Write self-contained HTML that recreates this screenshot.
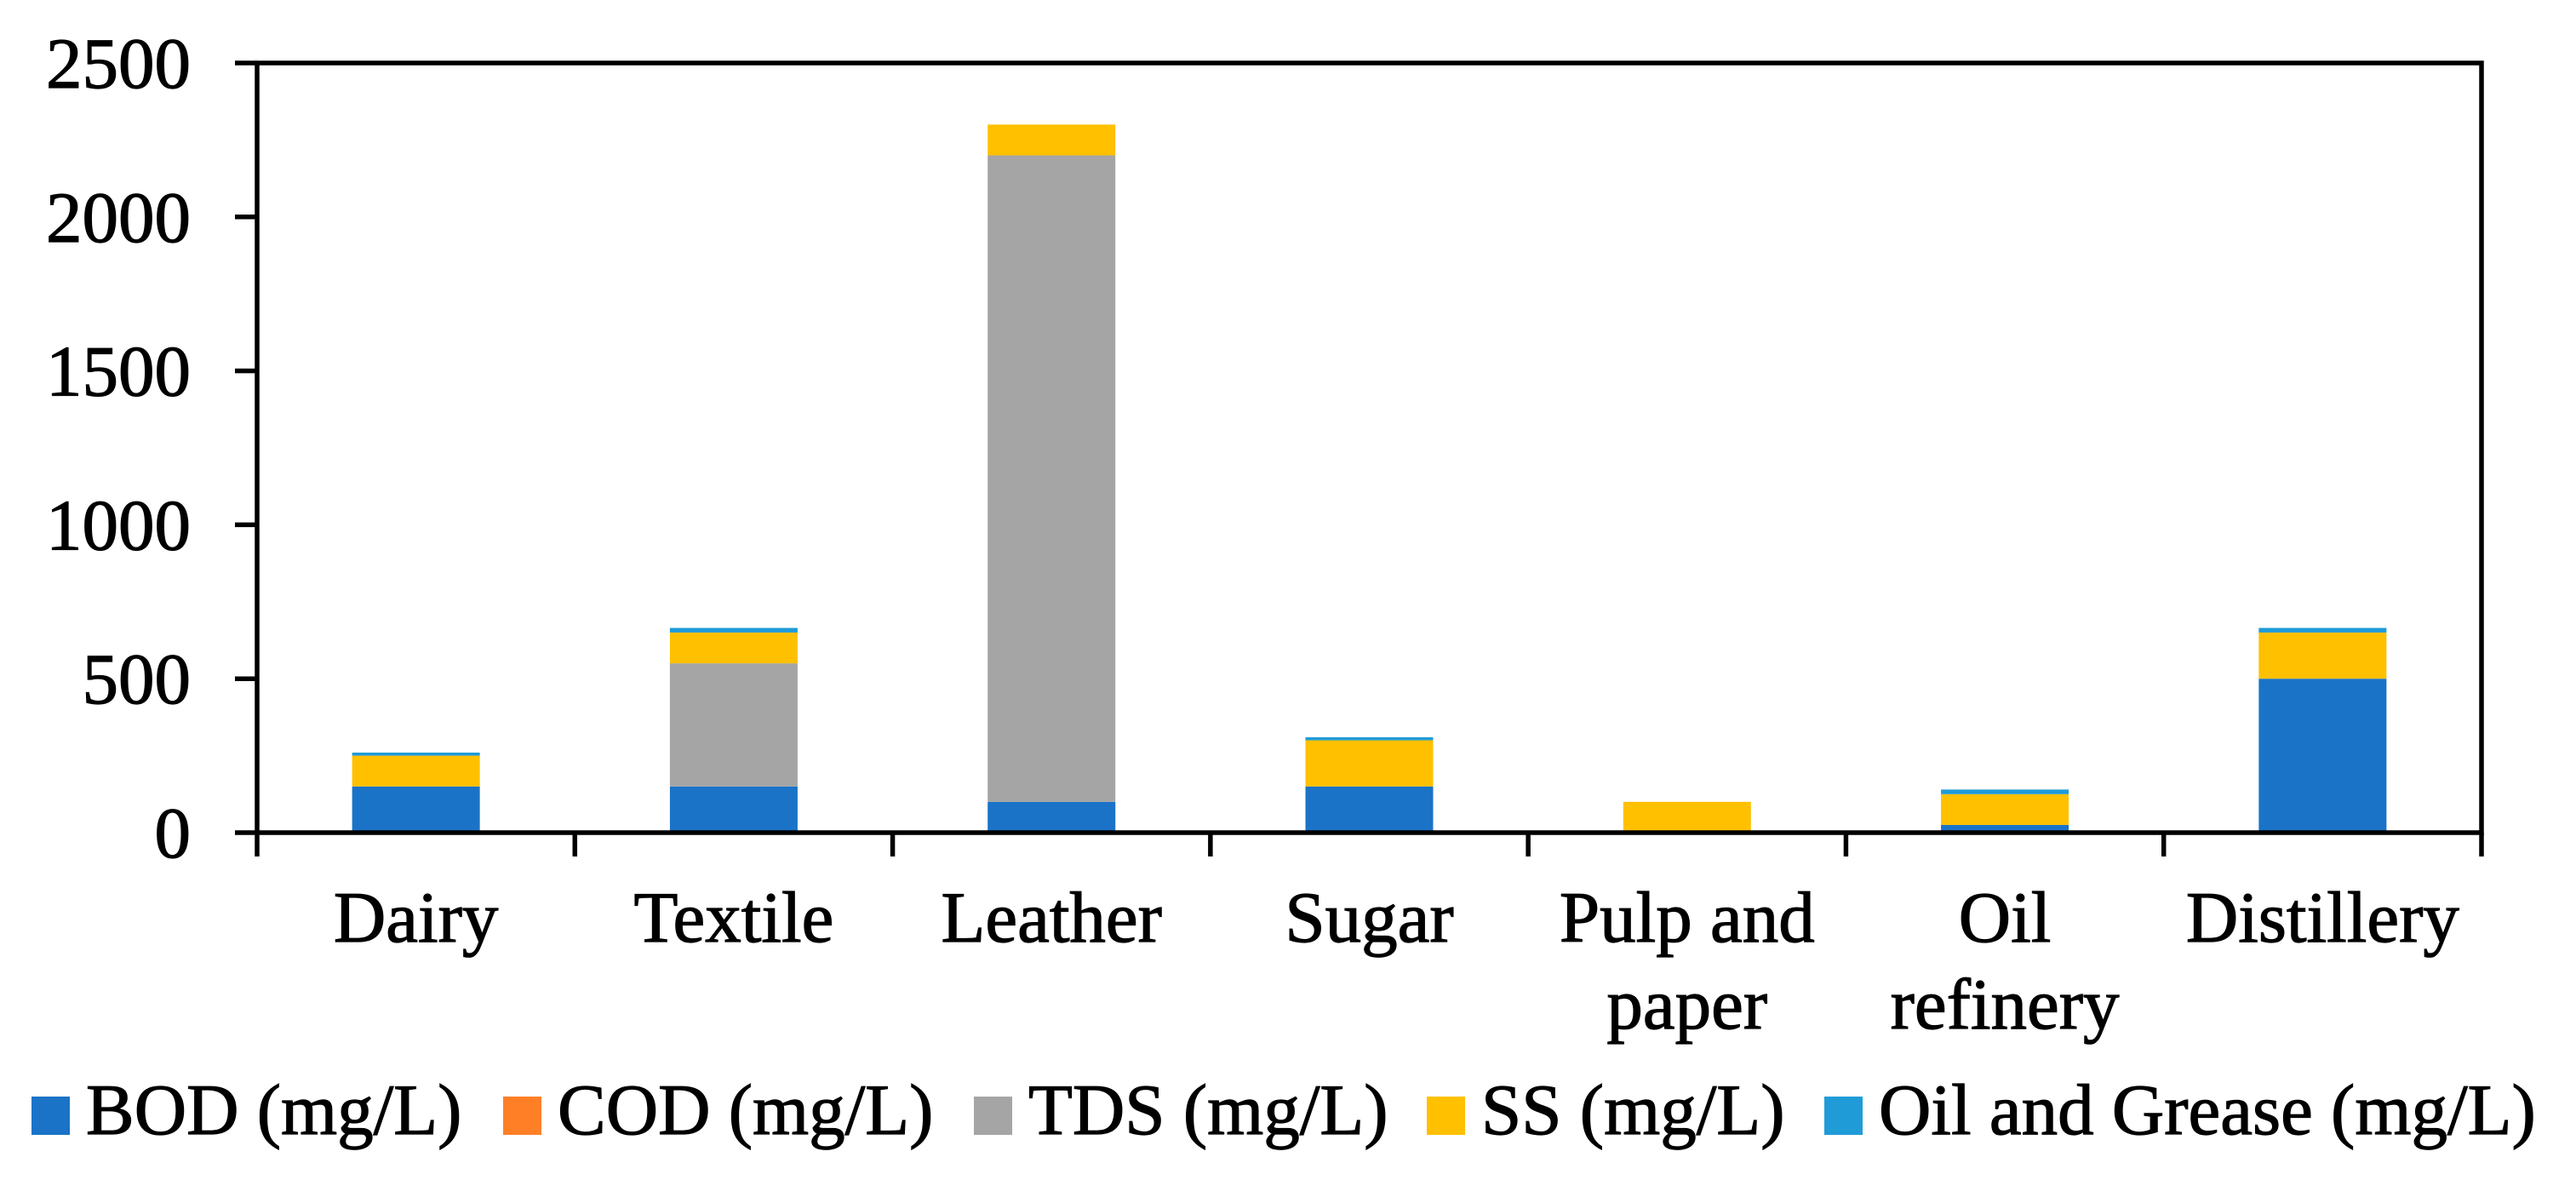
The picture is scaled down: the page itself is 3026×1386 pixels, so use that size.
<!DOCTYPE html>
<html><head><meta charset="utf-8"><style>
html,body{margin:0;padding:0;background:#fff;}
svg{display:block;font-family:"Liberation Serif",serif;}
svg text{stroke:#000;stroke-width:1.2px;}
</style></head><body>
<svg id="chart" width="3026" height="1386" viewBox="0 0 3026 1386" xmlns="http://www.w3.org/2000/svg"></svg>
<script>
const categories = [["Dairy"],["Textile"],["Leather"],["Sugar"],["Pulp and","paper"],["Oil","refinery"],["Distillery"]];
const seriesNames = ["BOD (mg/L)","COD (mg/L)","TDS (mg/L)","SS (mg/L)","Oil and Grease (mg/L)"];
const bod = [150,150,100,150,0,25,500];
const cod = [0,0,0,0,0,0,0];
const tds = [0,400,2100,0,0,0,0];
const ss = [100,100,100,150,100,100,150];
const oil = [10,15,0,10,0,15,15];
const yTicks = [0,500,1000,1500,2000,2500];
const colors = ["#1a73c7","#ff7f27","#a5a5a5","#ffc000","#1f9bd7"];
const keys = ["bod","cod","tds","ss","oil-grease"];

const series = [bod,cod,tds,ss,oil];
const L=302,R=2915,T=74,B=978,yMax=2500;
const NS="http://www.w3.org/2000/svg";
const svg=document.getElementById('chart');
const cw=(R-L)/categories.length;
const y=v=>B-(v/yMax)*(B-T);
const xc=i=>L+cw*(i+0.5);
function el(tag,attrs,parent){const e=document.createElementNS(NS,tag);for(const k in attrs)e.setAttribute(k,attrs[k]);(parent||svg).appendChild(e);return e;}

const bw=150;
categories.forEach((c,i)=>{
  let base=0;
  series.forEach((s,k)=>{
    const v=s[i]; if(v<=0) return;
    const r=el('rect',{x:xc(i)-bw/2,y:y(base+v),width:bw,height:y(base)-y(base+v),fill:colors[k]});
    
    
    base+=v;
  });
});
const fr=el('rect',{x:L,y:T,width:R-L,height:B-T,fill:'none',stroke:'#000','stroke-width':5.5});


yTicks.forEach(t=>{
  const ln=el('line',{x1:L-26,x2:L,y1:y(t),y2:y(t),stroke:'#000','stroke-width':5.5});
  
  
  const tx=el('text',{x:224,y:y(t)+29,'text-anchor':'end','font-size':85});
  tx.textContent=t;
  
  
});
for(let i=0;i<=categories.length;i++){
  const ln=el('line',{x1:L+cw*i,x2:L+cw*i,y1:B,y2:B+28,stroke:'#000','stroke-width':5.5});
  
  
}
categories.forEach((c,i)=>{
  c.forEach((line,j)=>{
    const tx=el('text',{x:xc(i),y:1106+j*102,'text-anchor':'middle','font-size':85});
    tx.textContent=line;
    
    
  });
});
const lx=[37,591,1144,1676,2143];
seriesNames.forEach((n,k)=>{
  const m=el('rect',{x:lx[k],y:1288,width:45,height:45,fill:colors[k]});
  
  
  const tx=el('text',{x:lx[k]+64,y:1332,'font-size':85});
  tx.textContent=n;
  
  
});
</script>
</body></html>
